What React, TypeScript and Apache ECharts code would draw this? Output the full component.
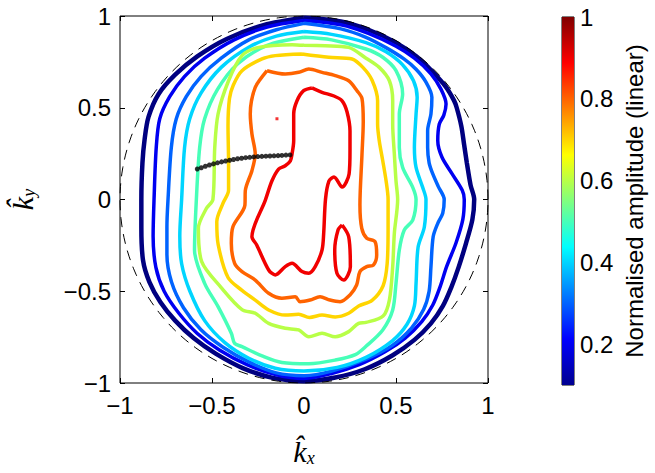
import React, { useEffect, useRef } from "react";
import * as echarts from "echarts";

const axisTicks = [-1, -0.5, 0, 0.5, 1];
const colorbarTicks = [0.2, 0.4, 0.6, 0.8, 1];
const levels = [0.1, 0.2, 0.3, 0.4, 0.5, 0.6, 0.7, 0.8, 0.9];

const contour01: number[][] = [
  [0, 0.99], [0.2, 0.97], [0.35, 0.925], [0.5, 0.855], [0.61, 0.78], [0.7, 0.695], [0.77, 0.615],
  [0.815, 0.54], [0.83, 0.5], [0.855, 0.4], [0.87, 0.3], [0.885, 0.2], [0.905, 0.08], [0.925, 0],
  [0.915, -0.11], [0.88, -0.24], [0.84, -0.37], [0.8, -0.48], [0.755, -0.58], [0.69, -0.675],
  [0.6, -0.765], [0.48, -0.85], [0.33, -0.925], [0.17, -0.97], [0, -0.99], [-0.17, -0.972],
  [-0.33, -0.92], [-0.48, -0.84], [-0.6, -0.755], [-0.7, -0.66], [-0.78, -0.56], [-0.84, -0.45],
  [-0.875, -0.33], [-0.884, -0.15], [-0.884, 0], [-0.878, 0.2], [-0.866, 0.33], [-0.845, 0.45],
  [-0.79, 0.575], [-0.7, 0.68], [-0.58, 0.78], [-0.42, 0.875], [-0.22, 0.95], [0, 0.99],
];
const contour02: number[][] = [
  [0, 0.975], [0.2, 0.952], [0.35, 0.905], [0.5, 0.835], [0.6, 0.77], [0.69, 0.685], [0.745, 0.6],
  [0.772, 0.52], [0.76, 0.46], [0.735, 0.41], [0.727, 0.32], [0.75, 0.23], [0.805, 0.14],
  [0.86, 0.05], [0.871, 0], [0.863, -0.11], [0.826, -0.237], [0.775, -0.366], [0.74, -0.475],
  [0.7, -0.575], [0.64, -0.665], [0.55, -0.755], [0.44, -0.83], [0.3, -0.9], [0.15, -0.948],
  [0, -0.975], [-0.15, -0.955], [-0.31, -0.9], [-0.46, -0.82], [-0.58, -0.73], [-0.68, -0.62],
  [-0.76, -0.5], [-0.805, -0.37], [-0.82, -0.2], [-0.815, 0], [-0.803, 0.284], [-0.784, 0.44],
  [-0.73, 0.56], [-0.65, 0.67], [-0.54, 0.77], [-0.38, 0.87], [-0.2, 0.94], [0, 0.975],
];
const contour03: number[][] = [
  [0, 0.96], [0.2, 0.93], [0.337, 0.884], [0.45, 0.825], [0.545, 0.765], [0.609, 0.71],
  [0.663, 0.64], [0.695, 0.557], [0.69, 0.466], [0.672, 0.375], [0.672, 0.284], [0.68, 0.2],
  [0.7, 0.139], [0.73, 0.07], [0.762, 0], [0.754, -0.075], [0.727, -0.13], [0.702, -0.203],
  [0.69, -0.366], [0.68, -0.5], [0.65, -0.6], [0.585, -0.7], [0.48, -0.795], [0.337, -0.87],
  [0.15, -0.935], [0, -0.96], [-0.15, -0.945], [-0.3, -0.885], [-0.44, -0.805], [-0.56, -0.71],
  [-0.655, -0.59], [-0.72, -0.45], [-0.745, -0.3], [-0.745, -0.15], [-0.739, 0], [-0.721, 0.284],
  [-0.694, 0.44], [-0.64, 0.56], [-0.56, 0.67], [-0.45, 0.77], [-0.3, 0.87], [-0.15, 0.925], [0, 0.96],
];
const contour04: number[][] = [
  [0, 0.915], [0.15, 0.9], [0.337, 0.855], [0.446, 0.805], [0.535, 0.735], [0.595, 0.647],
  [0.615, 0.557], [0.609, 0.466], [0.6, 0.284], [0.609, 0.175], [0.645, 0.066], [0.663, 0],
  [0.654, -0.15], [0.62, -0.26], [0.609, -0.457], [0.6, -0.58], [0.56, -0.68], [0.48, -0.77],
  [0.337, -0.86], [0.18, -0.915], [0, -0.935], [-0.156, -0.92], [-0.3, -0.865], [-0.43, -0.78],
  [-0.54, -0.66], [-0.62, -0.5], [-0.665, -0.35], [-0.675, -0.2], [-0.665, 0], [-0.649, 0.284],
  [-0.621, 0.44], [-0.56, 0.58], [-0.45, 0.72], [-0.3, 0.83], [-0.15, 0.89], [0, 0.915],
];
const contour05: number[][] = [
  [0, 0.884], [0.15, 0.87], [0.337, 0.82], [0.428, 0.775], [0.5, 0.702], [0.536, 0.575],
  [0.518, 0.466], [0.518, 0.284], [0.536, 0.175], [0.591, 0.066], [0.609, 0], [0.591, -0.112],
  [0.545, -0.166], [0.518, -0.275], [0.5, -0.457], [0.482, -0.602], [0.428, -0.711], [0.337, -0.8],
  [0.279, -0.845], [0.17, -0.875], [0.026, -0.895], [-0.12, -0.888], [-0.228, -0.852],
  [-0.337, -0.802], [-0.377, -0.784], [-0.395, -0.729], [-0.467, -0.584], [-0.54, -0.457],
  [-0.595, -0.275], [-0.585, 0], [-0.567, 0.284], [-0.54, 0.44], [-0.47, 0.6], [-0.36, 0.74],
  [-0.2, 0.84], [0, 0.884],
];
const contour06: number[][] = [
  [0, 0.84], [0.116, 0.838], [0.243, 0.829], [0.337, 0.77], [0.409, 0.72], [0.464, 0.647],
  [0.482, 0.538], [0.482, 0.411], [0.491, 0.248], [0.5, 0.102], [0.509, 0], [0.491, -0.184],
  [0.482, -0.366], [0.464, -0.548], [0.43, -0.635], [0.337, -0.67], [0.297, -0.675], [0.243, -0.72],
  [0.17, -0.748], [0.098, -0.729], [0.026, -0.748], [-0.029, -0.711], [-0.102, -0.702],
  [-0.192, -0.675], [-0.265, -0.62], [-0.337, -0.6], [-0.45, -0.48], [-0.556, -0.339],
  [-0.574, -0.157], [-0.53, -0.048], [-0.495, 0], [-0.485, 0.284], [-0.467, 0.466], [-0.41, 0.647],
  [-0.337, 0.784], [-0.246, 0.829], [-0.065, 0.844], [0, 0.84],
];
const contour07: number[][] = [
  [-0.011, 0.793], [0.134, 0.775], [0.261, 0.766], [0.32, 0.72], [0.37, 0.65], [0.4, 0.538],
  [0.4, 0.411], [0.409, 0.32], [0.428, 0.211], [0.446, 0.102], [0.457, 0], [0.457, -0.155],
  [0.452, -0.35], [0.43, -0.47], [0.37, -0.55], [0.297, -0.58], [0.243, -0.62], [0.17, -0.64],
  [0.098, -0.63], [0.03, -0.643], [-0.029, -0.625], [-0.102, -0.63], [-0.192, -0.602],
  [-0.265, -0.548], [-0.337, -0.495], [-0.413, -0.425], [-0.466, -0.248], [-0.474, -0.121],
  [-0.44, -0.02], [-0.41, 0.05], [-0.41, 0.2], [-0.413, 0.4], [-0.405, 0.55], [-0.384, 0.624],
  [-0.337, 0.702], [-0.228, 0.766], [-0.156, 0.784], [-0.011, 0.793],
];
const contour08: number[][] = [
  [-0.201, 0.702], [-0.102, 0.684], [-0.029, 0.693], [0.026, 0.711], [0.098, 0.693], [0.17, 0.675],
  [0.243, 0.647], [0.288, 0.593], [0.315, 0.551], [0.322, 0.424], [0.315, 0.243], [0.304, -0.03],
  [0.314, -0.157], [0.341, -0.211], [0.386, -0.23], [0.395, -0.302], [0.377, -0.357], [0.341, -0.366],
  [0.304, -0.393], [0.286, -0.466], [0.25, -0.52], [0.196, -0.557], [0.141, -0.548], [0.087, -0.53],
  [0.033, -0.548], [-0.022, -0.557], [-0.047, -0.53], [-0.12, -0.538], [-0.192, -0.511],
  [-0.265, -0.439], [-0.337, -0.393], [-0.377, -0.348], [-0.395, -0.239], [-0.386, -0.148],
  [-0.321, -0.03], [-0.319, 0.048], [-0.283, 0.157], [-0.265, 0.248], [-0.283, 0.357],
  [-0.292, 0.466], [-0.265, 0.611], [-0.201, 0.702],
];
const contour09a: number[][] = [
  [0.043, 0.608], [0.098, 0.584], [0.163, 0.564], [0.207, 0.538], [0.234, 0.477], [0.25, 0.373],
  [0.25, 0.27], [0.245, 0.139], [0.207, 0.068], [0.163, 0.123], [0.136, 0.101], [0.117, 0.003],
  [0.107, -0.184], [0.098, -0.275], [0.061, -0.366], [0.026, -0.402], [-0.011, -0.393],
  [-0.065, -0.348], [-0.102, -0.366], [-0.156, -0.411], [-0.192, -0.384], [-0.257, -0.248],
  [-0.283, -0.203], [-0.21, -0.003], [-0.174, 0.102], [-0.138, 0.166], [-0.102, 0.184],
  [-0.074, 0.211], [-0.065, 0.248], [-0.056, 0.32], [-0.056, 0.466], [-0.038, 0.538],
  [-0.002, 0.593], [0.043, 0.608],
];
const contour09b: number[][] = [
  [0.207, -0.139], [0.243, -0.203], [0.252, -0.366], [0.216, -0.439], [0.179, -0.402],
  [0.167, -0.275], [0.185, -0.166], [0.207, -0.139],
];
const peak09: number[][] = [[-0.147, 0.44]];

const pathX = [-0.58, -0.558, -0.536, -0.514, -0.492, -0.47, -0.448, -0.426, -0.404, -0.383, -0.361,
  -0.339, -0.317, -0.295, -0.273, -0.251, -0.229, -0.207, -0.185, -0.163, -0.141, -0.12, -0.098, -0.076];
const pathY = [0.166, 0.173, 0.181, 0.188, 0.194, 0.2, 0.205, 0.21, 0.214, 0.218, 0.222, 0.225,
  0.228, 0.23, 0.232, 0.234, 0.235, 0.236, 0.237, 0.238, 0.239, 0.24, 0.242, 0.243];

const contours = [contour01, contour02, contour03, contour04, contour05, contour06, contour07, contour08, contour09a];

function jet(v: number): string {
  const t = (v - 0.1) / 0.9;
  const c = (x: number) => Math.round(255 * Math.max(0, Math.min(1, x)));
  const r = c(1.5 - Math.abs(4 * t - 3));
  const g = c(1.5 - Math.abs(4 * t - 2));
  const b = c(1.5 - Math.abs(4 * t - 1));
  return `rgb(${r},${g},${b})`;
}

const FONT = "Liberation Sans, Arial, Helvetica, sans-serif";
const fmt = (v: number) => (v < 0 ? "\u2212" + Math.abs(v) : String(v));

export default function App() {
  const ref = useRef<HTMLDivElement>(null);
  useEffect(() => {
    if (!ref.current) return;
    const chart = echarts.init(ref.current, undefined, { renderer: "svg" });
    const circle: number[][] = [];
    for (let a = 0; a <= 360; a += 2) {
      circle.push([Math.cos((a * Math.PI) / 180), Math.sin((a * Math.PI) / 180)]);
    }
    const nameRich = {
      k: { fontFamily: "Liberation Serif, serif", fontStyle: "italic", fontSize: 30, color: "#000" },
      s: { fontFamily: "Liberation Serif, serif", fontStyle: "italic", fontSize: 18, color: "#000", padding: [14, 0, 0, 0] },
    };
    const noLine = { show: false, onZero: false };
    const tickStyle = { show: true, inside: true, length: 5, lineStyle: { color: "#000", width: 1 } };
    const series: any[] = [];
    contours.forEach((d, i) => {
      series.push({
        type: "line", data: d, smooth: 0.3, symbol: "none",
        lineStyle: { color: jet(levels[i]), width: i === 0 ? 4.5 : 3.5 }, z: 2 + i,
      });
    });
    series.push({
      type: "line", data: contour09b, smooth: 0.3, symbol: "none",
      lineStyle: { color: jet(levels[8]), width: 3.5 }, z: 11,
    });
    series.push({
      type: "scatter", data: peak09, symbol: "rect", symbolSize: 3,
      itemStyle: { color: jet(levels[8]) }, z: 11,
    });
    series.push({
      type: "line", data: circle, symbol: "none", smooth: false,
      lineStyle: { color: "#000", width: 1, type: [10, 7] }, z: 12,
    });
    series.push({
      type: "scatter", data: pathX.map((x, i) => [x, pathY[i]]), symbol: "circle", symbolSize: 5,
      itemStyle: { color: "#000" }, z: 13,
    });
    series.push({
      type: "bar", xAxisIndex: 2, yAxisIndex: 2, stack: "cb", data: [0.1], barWidth: "100%",
      itemStyle: { color: "rgba(0,0,0,0)" }, silent: true,
    });
    series.push({
      type: "bar", xAxisIndex: 2, yAxisIndex: 2, stack: "cb", data: [0.9], barWidth: "100%",
      silent: true,
      itemStyle: {
        color: new echarts.graphic.LinearGradient(0, 1, 0, 0, [
          { offset: 0, color: "#000090" },
          { offset: 0.125, color: "#0000ff" },
          { offset: 0.375, color: "#00ffff" },
          { offset: 0.625, color: "#ffff00" },
          { offset: 0.875, color: "#ff0000" },
          { offset: 1, color: "#800000" },
        ]),
      },
    });

    chart.setOption({
      animation: false,
      backgroundColor: "#fff",
      grid: [
        { left: 120, top: 16, width: 368, height: 367, show: true, borderColor: "#000", borderWidth: 1,
          backgroundColor: "transparent", outerBoundsMode: "none", containLabel: false },
        { left: 562, top: 17, width: 12, height: 368, show: true, borderColor: "#000", borderWidth: 1,
          backgroundColor: "transparent", outerBoundsMode: "none", containLabel: false },
      ],
      xAxis: [
        {
          type: "value", gridIndex: 0, min: -1, max: 1, interval: 0.5, position: "bottom",
          axisLine: noLine, axisTick: tickStyle, splitLine: { show: false },
          axisLabel: { fontFamily: FONT, fontSize: 24, color: "#000", margin: 10, formatter: fmt,
            customValues: axisTicks },
          name: "{k|k\u0302}{s|x}", nameLocation: "middle", nameGap: 52,
          nameTextStyle: { rich: nameRich },
        },
        {
          type: "value", gridIndex: 0, min: -1, max: 1, interval: 0.5, position: "top",
          axisLine: noLine, axisTick: tickStyle, axisLabel: { show: false }, splitLine: { show: false },
        },
        { type: "category", gridIndex: 1, data: ["c"], show: false },
      ],
      yAxis: [
        {
          type: "value", gridIndex: 0, min: -1, max: 1, interval: 0.5, position: "left",
          axisLine: noLine, axisTick: tickStyle, splitLine: { show: false },
          axisLabel: { fontFamily: FONT, fontSize: 24, color: "#000", margin: 9, formatter: fmt,
            customValues: axisTicks },
          name: "{k|k\u0302}{s|y}", nameLocation: "middle", nameGap: 82, nameRotate: 90,
          nameTextStyle: { rich: nameRich },
        },
        {
          type: "value", gridIndex: 0, min: -1, max: 1, interval: 0.5, position: "right",
          axisLine: noLine, axisTick: tickStyle, axisLabel: { show: false }, splitLine: { show: false },
        },
        {
          type: "value", gridIndex: 1, min: 0.1, max: 1, position: "right",
          axisLine: noLine, splitLine: { show: false },
          axisTick: { show: true, inside: true, length: 3, lineStyle: { color: "#000" }, customValues: colorbarTicks },
          axisLabel: { fontFamily: FONT, fontSize: 24, color: "#000", margin: 6, customValues: colorbarTicks,
            formatter: (v: number) => String(Math.round(v * 10) / 10) },
          name: "Normalised amplitude (linear)", nameLocation: "middle", nameRotate: 90, nameGap: 48,
          nameTextStyle: { fontFamily: FONT, fontSize: 24, color: "#000" },
        },
      ],
      series,
    });
    return () => chart.dispose();
  }, []);
  return <div ref={ref} style={{ position: "fixed", left: 0, top: 0, width: 655, height: 473 }} />;
}
